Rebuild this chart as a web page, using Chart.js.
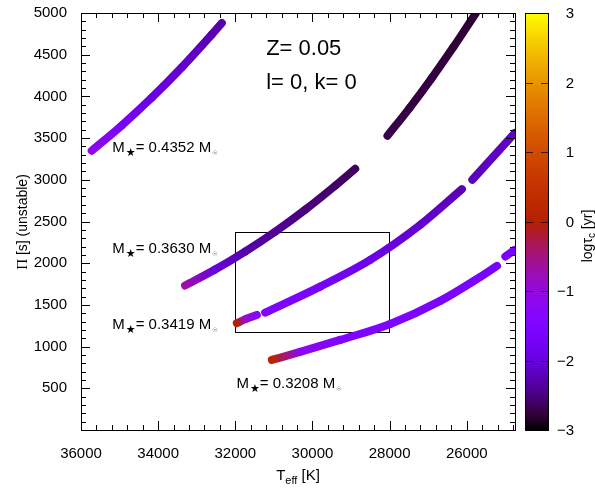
<!DOCTYPE html>
<html>
<head>
<meta charset="utf-8">
<script src="https://cdn.jsdelivr.net/npm/chart.js@4.4.1/dist/chart.umd.min.js"></script>
<style>
  html, body { margin: 0; padding: 0; background: #fff; }
</style>
</head>
<body>
<canvas id="chart" width="595" height="489"></canvas>
<script>
// Teff [K], period [s], log tau [yr] read along each track (gaps split into pieces)
var teff1 = [35722, 34944, 34166, 33388, 32610, 32350];
var per1 = [3348, 3652, 3984, 4348, 4742, 4880];
var tau1 = [-1.1, -1.7, -1.95, -2.1, -2.25, -2.3];

var teff2a = [33302, 32524, 31746, 30968, 30189, 29411, 28892];
var per2a = [1732, 1924, 2140, 2378, 2641, 2929, 3132];
var tau2a = [-0.7, -2.0, -2.3, -2.4, -2.5, -2.6, -2.65];
var teff2b = [28055, 27485, 26913, 26343, 25762];
var per2b = [3528, 3860, 4217, 4594, 5000];
var tau2b = [-2.7, -2.75, -2.75, -2.8, -2.8];

var teff3a = [31961, 31720, 31442];
var per3a = [1280, 1332, 1380];
var tau3a = [0.0, -0.9, -1.4];
var teff3b = [31227, 29800, 28503, 27206, 26125];
var per3b = [1408, 1720, 2040, 2460, 2888];
var tau3b = [-1.5, -1.7, -1.9, -2.1, -2.25];
var teff3c = [25857, 24760];
var per3c = [3000, 3560];
var tau3c = [-2.2, -2.15];

var teff4a = [31053, 30319, 29282, 27984, 26687, 25650, 25217];
var per4a = [840, 936, 1080, 1272, 1548, 1836, 1968];
var tau4a = [0.15, -1.2, -1.5, -1.55, -1.6, -1.65, -1.7];
var teff4b = [25001, 24760];
var per4b = [2080, 2160];
var tau4b = [-1.6, -1.6];

var masses = ['0.4352', '0.3630', '0.3419', '0.3208'];
var massTeff = [35188, 35188, 35188, 31972];
var massPer = [3336, 2124, 1212, 504];

var xTicks = [36000, 34000, 32000, 30000, 28000, 26000];
var yTicks = [500, 1000, 1500, 2000, 2500, 3000, 3500, 4000, 4500, 5000];
var cbTicks = [-3, -2, -1, 0, 1, 2, 3];

var SANS = '"Liberation Sans", Arial, sans-serif';

// gnuplot default palette 7,5,15
function palette(v) {
  var x = Math.min(1, Math.max(0, (v + 3) / 6));
  var r = Math.sqrt(x), g = x * x * x, b = Math.max(0, Math.sin(2 * Math.PI * x));
  return 'rgb(' + Math.round(r * 255) + ',' + Math.round(g * 255) + ',' + Math.round(b * 255) + ')';
}

var pieces = [
  [teff1, per1, tau1], [teff2a, per2a, tau2a], [teff2b, per2b, tau2b],
  [teff3a, per3a, tau3a], [teff3b, per3b, tau3b], [teff3c, per3c, tau3c],
  [teff4a, per4a, tau4a], [teff4b, per4b, tau4b]
];

var datasets = pieces.map(function(p) {
  return {
    data: p[0].map(function(t, i) { return {x: t, y: p[1][i]}; }),
    borderWidth: 8,
    borderCapStyle: 'round',
    borderJoinStyle: 'round',
    pointRadius: 0,
    cubicInterpolationMode: 'monotone',
    fill: false,
    segment: {
      borderColor: function(ctx) {
        var tau = pieces[ctx.datasetIndex][2];
        var grad = ctx.chart.ctx.createLinearGradient(ctx.p0.x, ctx.p0.y, ctx.p1.x, ctx.p1.y);
        grad.addColorStop(0, palette(tau[ctx.p0DataIndex]));
        grad.addColorStop(1, palette(tau[ctx.p1DataIndex]));
        return grad;
      }
    }
  };
});

function put(ctx, text, x, y, font) {
  ctx.font = font;
  ctx.fillText(text, x, y);
  return x + ctx.measureText(text).width;
}

function partsWidth(ctx, parts) {
  var w = 0;
  parts.forEach(function(p) { ctx.font = p[1]; w += ctx.measureText(p[0]).width; });
  return w;
}

var boxPlugin = {
  id: 'zoomBox',
  beforeDatasetsDraw: function(chart) {
    var ctx = chart.ctx, xs = chart.scales.x, ys = chart.scales.y;
    var x0 = xs.getPixelForValue(32000), x1 = xs.getPixelForValue(28000);
    var y0 = ys.getPixelForValue(2380), y1 = ys.getPixelForValue(1180);
    ctx.save();
    ctx.strokeStyle = '#000';
    ctx.lineWidth = 1;
    ctx.strokeRect(Math.round(x0) + 0.5, Math.round(y0) + 0.5, Math.round(x1 - x0), Math.round(y1 - y0));
    ctx.restore();
  }
};

var framePlugin = {
  id: 'frame',
  afterDraw: function(chart) {
    var ctx = chart.ctx, a = chart.chartArea, xs = chart.scales.x, ys = chart.scales.y;
    ctx.save();
    ctx.strokeStyle = '#000';
    ctx.lineWidth = 1;
    ctx.strokeRect(Math.round(a.left) + 0.5, Math.round(a.top) + 0.5, Math.round(a.right - a.left), Math.round(a.bottom - a.top));

    // inward ticks on all four sides
    ctx.beginPath();
    var t, px, len;
    for (t = 24800; t <= 36000; t += 400) {
      px = Math.round(xs.getPixelForValue(t)) + 0.5;
      len = (t % 2000 === 0) ? 9 : 5;
      ctx.moveTo(px, a.bottom); ctx.lineTo(px, a.bottom - len);
      ctx.moveTo(px, a.top); ctx.lineTo(px, a.top + len);
    }
    for (t = 100; t < 5000; t += 100) {
      px = Math.round(ys.getPixelForValue(t)) + 0.5;
      len = (t % 500 === 0) ? 9 : 5;
      ctx.moveTo(a.left, px); ctx.lineTo(a.left + len, px);
      ctx.moveTo(a.right, px); ctx.lineTo(a.right - len, px);
    }
    ctx.stroke();

    // colour box
    var cbL = a.right + 11, cbW = 22;
    var grad = ctx.createLinearGradient(0, a.bottom, 0, a.top);
    for (var i = 0; i <= 30; i++) grad.addColorStop(i / 30, palette(-3 + 6 * i / 30));
    ctx.fillStyle = grad;
    ctx.fillRect(cbL, a.top, cbW, a.bottom - a.top);
    ctx.strokeRect(cbL - 0.5, Math.round(a.top) + 0.5, cbW + 1, Math.round(a.bottom - a.top));
    ctx.fillStyle = '#000';
    ctx.textAlign = 'right';
    ctx.textBaseline = 'middle';
    ctx.font = '15px ' + SANS;
    cbTicks.forEach(function(v) {
      var y = Math.round(a.bottom - (v + 3) / 6 * (a.bottom - a.top)) + 0.5;
      ctx.strokeStyle = 'rgba(0,0,0,0.7)';
      ctx.beginPath();
      ctx.moveTo(cbL, y); ctx.lineTo(cbL + 7, y);
      ctx.moveTo(cbL + cbW - 7, y); ctx.lineTo(cbL + cbW, y);
      ctx.stroke();
      ctx.fillText(v < 0 ? '\u2212' + (-v) : String(v), cbL + cbW + 26, y);
    });

    ctx.textAlign = 'left';
    ctx.textBaseline = 'alphabetic';

    // Z and l,k
    ctx.font = '22px ' + SANS;
    ctx.fillText('Z= 0.05', xs.getPixelForValue(31201), 55);
    ctx.fillText('l= 0, k= 0', xs.getPixelForValue(31201), 89);

    // mass labels
    masses.forEach(function(m, i) {
      var x = xs.getPixelForValue(massTeff[i]), y = ys.getPixelForValue(massPer[i]);
      var cx = put(ctx, 'M', x, y, '15px ' + SANS);
      cx = put(ctx, '\u2605', cx + 1, y + 4, '11px "DejaVu Sans"');
      cx = put(ctx, '= ' + m + ' M', cx, y, '15px ' + SANS);
      put(ctx, '\u2609', cx + 1, y + 3, '6px "DejaVu Sans"');
    });

    // x title
    var xt = [['T', '15px ' + SANS, 0], ['eff', '11px ' + SANS, 4], [' [K]', '15px ' + SANS, 0]];
    var cx = (a.left + a.right) / 2 - partsWidth(ctx, xt) / 2;
    xt.forEach(function(p) { cx = put(ctx, p[0], cx, 480 + p[2], p[1]); });

    // y title
    var yt = [['\u03a0', '15px "Liberation Serif", serif', 0], [' [s] (unstable)', '14px ' + SANS, 0]];
    ctx.save();
    ctx.translate(27, 222);
    ctx.rotate(-Math.PI / 2);
    cx = -partsWidth(ctx, yt) / 2;
    yt.forEach(function(p) { cx = put(ctx, p[0], cx, p[2], p[1]); });
    ctx.restore();

    // colour box title
    var ct = [['log\u03c4', '14px ' + SANS, 0], ['c', '10px ' + SANS, 3], [' [yr]', '14px ' + SANS, 0]];
    ctx.save();
    ctx.translate(592, 236);
    ctx.rotate(-Math.PI / 2);
    cx = -partsWidth(ctx, ct) / 2;
    ct.forEach(function(p) { cx = put(ctx, p[0], cx, p[2], p[1]); });
    ctx.restore();

    ctx.restore();
  }
};

var ctx = document.getElementById('chart').getContext('2d');
var config = {
  type: 'line',
  data: { datasets: datasets },
  options: {
    responsive: false,
    animation: false,
    layout: { padding: { left: 0, top: 13, right: 80, bottom: 0 } },
    plugins: { legend: { display: false }, tooltip: { enabled: false } },
    scales: {
      x: {
        type: 'linear', reverse: true, min: 24750, max: 36000,
        afterBuildTicks: function(s) { s.ticks = xTicks.map(function(v) { return {value: v}; }); },
        afterFit: function(s) { s.height = 59; s.paddingLeft = 0; s.paddingRight = 0; },
        grid: { display: false, drawTicks: false },
        border: { display: false },
        ticks: { color: '#000', padding: 15, maxRotation: 0, font: { family: SANS, size: 15 },
                 callback: function(v) { return String(v); } }
      },
      y: {
        type: 'linear', min: 0, max: 5000,
        afterBuildTicks: function(s) { s.ticks = yTicks.map(function(v) { return {value: v}; }); },
        afterFit: function(s) { s.width = 81; s.paddingTop = 0; s.paddingBottom = 0; },
        grid: { display: false, drawTicks: false },
        border: { display: false },
        ticks: { color: '#000', padding: 14, font: { family: SANS, size: 15 },
                 callback: function(v) { return String(v); } }
      }
    }
  },
  plugins: [boxPlugin, framePlugin]
};
var myChart = new Chart(ctx, config);
</script>
</body>
</html>
